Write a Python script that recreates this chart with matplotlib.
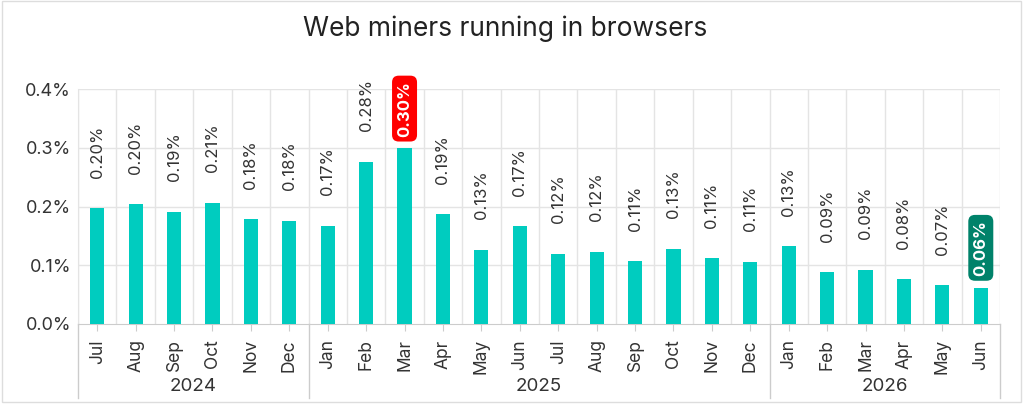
import matplotlib
matplotlib.use("Agg")
import matplotlib.pyplot as plt
import matplotlib.transforms as mtransforms
from matplotlib.patches import Rectangle

months = ["Jul", "Aug", "Sep", "Oct", "Nov", "Dec",
          "Jan", "Feb", "Mar", "Apr", "May", "Jun", "Jul", "Aug", "Sep", "Oct", "Nov", "Dec",
          "Jan", "Feb", "Mar", "Apr", "May", "Jun"]
values = [0.197, 0.204, 0.191, 0.206, 0.178, 0.176,
          0.167, 0.276, 0.299, 0.187, 0.126, 0.166, 0.120, 0.123, 0.107, 0.128, 0.112, 0.106,
          0.132, 0.088, 0.092, 0.076, 0.066, 0.062]
years = ["2024", "2025", "2026"]
year_counts = [6, 12, 6]
highlight = {8: "#FF0000", 23: "#00826A"}

plt.rcParams['font.family'] = ['Inter', 'DejaVu Sans']
txt = "#333333"
grid_c = "#e4e4e4"

fig = plt.figure(figsize=(10.24, 4.04), dpi=100)
ax = fig.add_axes([78 / 1024, 1 - 324 / 404, 922 / 1024, 235 / 404])

x = list(range(len(values)))
ax.bar(x, values, width=0.37, color="#00CCBF", zorder=3)

ax.set_xlim(-0.5, len(values) - 0.5)
ax.set_ylim(0, 0.4)
ax.set_yticks([0, 0.1, 0.2, 0.3, 0.4])
ax.set_yticklabels([f"{t:.1f}%" for t in [0, 0.1, 0.2, 0.3, 0.4]], fontsize=13, color=txt)
ax.set_xticks(x)
ax.set_xticklabels(months, rotation=90, fontsize=12.5, color=txt)
ax.tick_params(axis="x", length=5, color="#cccccc", pad=6)
ax.tick_params(axis="y", length=0, pad=5)

# grid
for t in [0.1, 0.2, 0.3, 0.4]:
    ax.axhline(t, color=grid_c, lw=1, zorder=1)
for b in range(len(values) + 1):
    ax.axvline(b - 0.5, color=grid_c, lw=1, zorder=1)

for s in ["top", "right"]:
    ax.spines[s].set_visible(False)
ax.spines["left"].set_color(grid_c)
ax.spines["bottom"].set_color("#cccccc")

# value labels
for i, v in enumerate(values):
    lab = f"{v:.2f}%"
    if i in highlight:
        ax.annotate(lab, (i, v), xytext=(0, 8.5), textcoords="offset points",
                    rotation=90, ha="center", va="bottom", fontsize=12,
                    color="white", fontweight="bold", zorder=5,
                    bbox=dict(boxstyle="round,pad=0.3,rounding_size=0.4",
                              fc=highlight[i], ec="none"))
    else:
        ax.annotate(lab, (i, v), xytext=(0, 22), textcoords="offset points",
                    rotation=90, ha="center", va="bottom", fontsize=12,
                    color=txt, zorder=5)

# year groups
trans = mtransforms.blended_transform_factory(ax.transData, ax.transAxes)
start = 0
bounds = [-0.5]
for yr, n in zip(years, year_counts):
    mid = start + (n - 1) / 2
    ax.text(mid, -0.265, yr, transform=trans, ha="center", va="center",
            fontsize=13.5, color=txt)
    start += n
    bounds.append(start - 0.5)
for b in bounds:
    ax.plot([b, b], [0, -0.315], transform=trans, color="#cccccc", lw=1,
            clip_on=False)

fig.text(505 / 1024, 1 - 29 / 404, "Web miners running in browsers",
         ha="center", va="center", fontsize=19, color="#222222")

fig.patches.append(Rectangle((2 / 1024, 1 - 402 / 404), 1019 / 1024, 401 / 404,
                             transform=fig.transFigure, fill=False,
                             ec="#dddddd", lw=1))

fig.savefig("out.png", dpi=100)
